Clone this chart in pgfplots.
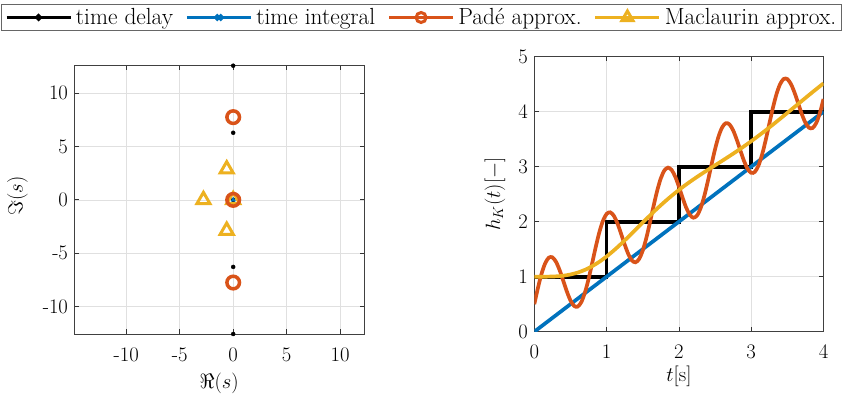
\documentclass[border=0pt]{standalone}
\usepackage{pgfplots}
\pgfplotsset{compat=1.18}
\definecolor{mblue}{rgb}{0,0.447,0.741}
\definecolor{morange}{rgb}{0.850,0.325,0.098}
\definecolor{myellow}{rgb}{0.929,0.694,0.125}
\pgfplotsset{
  mystyle/.style={
    scale only axis,
    axis line style={black!75, line width=0.8bp},
    every tick/.style={black!80, line width=0.7bp},
    major tick length=4.5bp,
    tick align=inside,
    tick pos=both,
    grid=major,
    major grid style={black!12, line width=0.6bp},
    tick label style={font=\huge},
    label style={font=\huge},
    xticklabel style={yshift=-10bp},
    yticklabel style={xshift=-3bp},
  }
}
\begin{document}
\begin{tikzpicture}
\path[use as bounding box] (0,0) rectangle (843bp,396bp);

% ---------------- left: poles ----------------
\begin{axis}[mystyle,
  at={(74.5bp,62bp)}, anchor=south west,
  width=289.5bp, height=268.3bp,
  xmin=-14.85, xmax=12.24, ymin=-12.566, ymax=12.566,
  xtick={-10,-5,0,5,10}, xticklabels={-10,-5,0,5,10},
  ytick={-10,-5,0,5,10}, yticklabels={-10,-5,0,5,10},
  xlabel={$\Re(s)$}, ylabel={$\Im(s)$},
  xlabel style={at={(axis description cs:0.5,-0.184)}, anchor=center},
  ylabel style={at={(axis description cs:-0.197,0.514)}, anchor=center, rotate=0},
]
\addplot[only marks, black, mark=*, mark size=2bp] coordinates {
  (0,0) (0,6.2832) (0,-6.2832) (0,12.566) (0,-12.566)};
\addplot[only marks, myellow, mark=triangle, mark size=7.5bp, mark options={line width=3bp}] coordinates {
  (0,0) (-2.7853,0) (-0.6074,2.8719) (-0.6074,-2.8719)};
\addplot[only marks, morange, mark=o, mark size=6.3bp, mark options={line width=3.5bp}] coordinates {
  (0,0) (0,7.746) (0,-7.746)};
\addplot[only marks, mblue, mark=triangle*, mark size=2.6bp] coordinates {(0,0)};
\end{axis}

% ---------------- right: step responses ----------------
\begin{axis}[mystyle,
  at={(534.3bp,64.3bp)}, anchor=south west,
  width=289.2bp, height=275bp,
  xmin=0, xmax=4, ymin=0, ymax=5,
  xtick={0,1,2,3,4}, ytick={0,1,2,3,4,5},
  xlabel={$t[\mathrm{s}]$}, ylabel={$h_K(t)[-]$},
  xlabel style={at={(axis description cs:0.5,-0.163)}, anchor=center},
  ylabel style={at={(axis description cs:-0.136,0.5)}, anchor=center},
]
\addplot[black, line width=3.7bp] coordinates {
  (0,1) (1,1) (1,2) (2,2) (2,3) (3,3) (3,4) (4,4)};
\addplot[mblue, line width=3.7bp] coordinates {(0,0) (4,4)};
\addplot[morange, line width=3.7bp, smooth] coordinates {
(0.00,0.5000) (0.05,0.7938) (0.10,1.0515) (0.15,1.2423) (0.20,1.3454)
(0.25,1.3528) (0.30,1.2710) (0.35,1.1194) (0.40,0.9279) (0.45,0.7323)
(0.50,0.5689) (0.55,0.4694) (0.60,0.4558) (0.65,0.5378) (0.70,0.7103)
(0.75,0.9555) (0.80,1.2443) (0.85,1.5413) (0.90,1.8101) (0.95,2.0179)
(1.00,2.1417) (1.05,2.1705) (1.10,2.1073) (1.15,1.9690) (1.20,1.7834)
(1.25,1.5855) (1.30,1.4120) (1.35,1.2959) (1.40,1.2619) (1.45,1.3224)
(1.50,1.4759) (1.55,1.7071) (1.60,1.9890) (1.65,2.2874) (1.70,2.5654)
(1.75,2.7893) (1.80,2.9332) (1.85,2.9835) (1.90,2.9398) (1.95,2.8162)
(2.00,2.6383) (2.05,2.4399) (2.10,2.2579) (2.15,2.1266) (2.20,2.0727)
(2.25,2.1117) (2.30,2.2454) (2.35,2.4613) (2.40,2.7346) (2.45,3.0324)
(2.50,3.3182) (2.55,3.5567) (2.60,3.7203) (2.65,3.7918) (2.70,3.7682)
(2.75,3.6609) (2.80,3.4922) (2.85,3.2953) (2.90,3.1064) (2.95,2.9610)
(3.00,2.8881) (3.05,2.9058) (3.10,3.0190) (3.15,3.2182) (3.20,3.4813)
(3.25,3.7770) (3.30,4.0685) (3.35,4.3204) (3.40,4.5024) (3.45,4.5954)
(3.50,4.5926) (3.55,4.5022) (3.60,4.3446) (3.65,4.1509) (3.70,3.9570)
(3.75,3.7991) (3.80,3.7081) (3.85,3.7047) (3.90,3.7968) (3.95,3.9784)
(4.00,4.2298)};
\addplot[myellow, line width=3.7bp, smooth] coordinates {
(0.0,1.0000) (0.1,1.0000) (0.2,1.0013) (0.3,1.0063) (0.4,1.0180)
(0.5,1.0399) (0.6,1.0747) (0.7,1.1244) (0.8,1.1902) (0.9,1.2718)
(1.0,1.3682) (1.1,1.4774) (1.2,1.5969) (1.3,1.7234) (1.4,1.8538)
(1.5,1.9851) (1.6,2.1144) (1.7,2.2396) (1.8,2.3589) (1.9,2.4715)
(2.0,2.5770) (2.1,2.6758) (2.2,2.7688) (2.3,2.8570) (2.4,2.9420)
(2.5,3.0255) (2.6,3.1087) (2.7,3.1933) (2.8,3.2801) (2.9,3.3701)
(3.0,3.4636) (3.1,3.5608) (3.2,3.6615) (3.3,3.7652) (3.4,3.8713)
(3.5,3.9790) (3.6,4.0876) (3.7,4.1961) (3.8,4.3040) (3.9,4.4107)
(4.0,4.5157)};
\end{axis}

% ---------------- shared legend ----------------
\begin{axis}[
  scale only axis, hide axis,
  at={(0bp,0bp)}, anchor=south west,
  width=843bp, height=396bp,
  xmin=0, xmax=1, ymin=0, ymax=1,
  legend columns=4,
  legend style={at={(0.5,0.9558)}, anchor=center, font=\fontsize{23.4}{28}\selectfont,
    draw=black!60, line width=0.8bp, fill=white,
    inner xsep=3.5bp, inner ysep=2.5bp,
    /tikz/every even column/.append style={column sep=10bp},
    /tikz/every odd column/.append style={column sep=1.5bp}},
  legend image code/.code={
    \draw[mark repeat=2, mark phase=2] plot coordinates {(0bp,0bp) (32bp,0bp) (64bp,0bp)};},
]
\addlegendimage{black, line width=3.7bp, mark=*, mark size=1.5bp}
\addlegendentry{time delay}
\addlegendimage{mblue, line width=3.7bp, mark=x, mark size=4bp, mark options={line width=3bp}}
\addlegendentry{time integral}
\addlegendimage{morange, line width=3.7bp, mark=o, mark size=5bp, mark options={line width=3bp}}
\addlegendentry{Pad\'e approx.}
\addlegendimage{myellow, line width=3.7bp, mark=triangle, mark size=6.5bp, mark options={line width=3bp}}
\addlegendentry{Maclaurin approx.}
\end{axis}
\end{tikzpicture}
\end{document}
